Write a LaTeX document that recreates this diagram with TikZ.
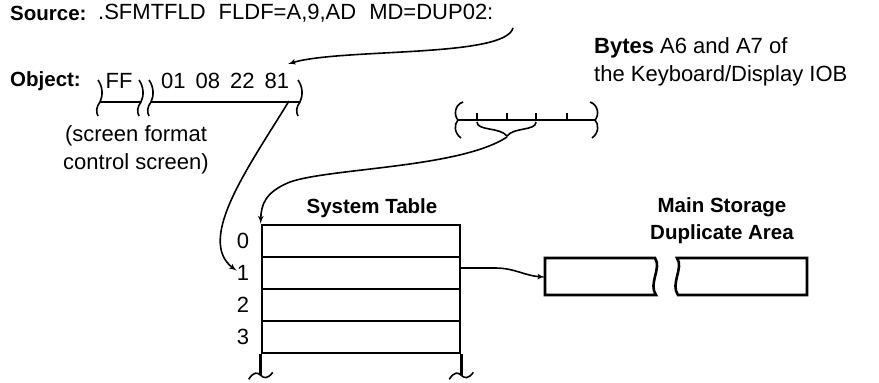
\documentclass[tikz,border=0pt]{standalone}
\usepackage{fontspec}
\setmainfont{Liberation Sans}
\usetikzlibrary{arrows, positioning}

\begin{document}
\begin{tikzpicture}[x=1pt, y=-1pt]

\tikzset{txt/.style = {font=\fontsize{22}{28}\selectfont, inner sep=0pt}}
\tikzset{bold/.style = {txt, font=\fontsize{20.5}{27}\selectfont\bfseries}}
\tikzset{conn/.style = {draw, ->, >=latex', line width=1.6pt}}
\tikzset{wire/.style = {line width=1.6pt}}
\tikzset{frame/.style = {line width=2.6pt}}
\tikzset{brk/.pic = {\draw[wire] (-2,-22) .. controls (3,-15) and (3,-6) .. (0,0) .. controls (-4,5) and (-4,10) .. (-2,14);}}
\tikzset{curl/.pic = {\draw[wire] (5,-18) .. controls (-4,-15) and (-4,-4) .. (0,0) .. controls (-4,4) and (-4,13) .. (3,18);}}
\tikzset{tilde/.pic = {\draw[wire] (-12,4) .. controls (-7,-4) and (-3,-3) .. (0,0) .. controls (3,3) and (7,4) .. (12,-3);}}

\useasboundingbox (0,0) rectangle (879,383);

% texts
\node[bold, anchor=west] (src) at (10,13) {Source:};
\node[txt, anchor=west] (srccode) at (98,13) {.SFMTFLD\hspace{13pt}FLDF=A,9,AD\hspace{13pt}MD=DUP02:};
\node[bold, anchor=west] (obj) at (10,81) {Object:};
\node[txt] (ff) at (119,81) {FF};
\node[txt, anchor=west] (objcode) at (161,81) {01\hspace{10pt}08\hspace{10pt}22\hspace{10pt}81};
\node[txt, align=center] (note) at (136,150) {(screen format\\control screen)};
\node[txt, align=left, anchor=west] (bytes) at (594,62) {\textbf{Bytes} A6 and A7 of\\the Keyboard/Display IOB};
\node[bold] (systab) at (372,208) {System Table};
\node[bold, align=center] (mainst) at (722,221) {Main Storage\\Duplicate Area};

% object fields
\draw[wire] (100,102) -- (141,102);
\draw[wire] (151,102) -- (300,102);
\foreach \x in {100,141,151,300} \pic at (\x,102) {brk};

% bytes A6 and A7
\draw[wire] (458,120) -- (595,120);
\foreach \x in {477,507,536,567} \draw[wire] (\x,120) -- ++(0,-7);
\pic at (458,120) {curl};
\pic[xscale=-1] at (595,120) {curl};
\draw[wire] (477,122) .. controls (477,131) and (500,127) .. (507,136) .. controls (514,127) and (536,131) .. (536,122);

% system table
\node[draw, frame, minimum width=198pt, minimum height=128pt, inner sep=0pt] (tbl) at (361,289) {};
\foreach \y in {257,289,321} \draw[wire] (262,\y) -- (460,\y);
\draw[frame] (tbl.south west) -- ++(0,21) pic {tilde};
\draw[frame] (tbl.south east) -- ++(0,21) pic {tilde};
\foreach \i/\y in {0/241,1/273,2/305,3/337} \node[txt] (lbl\i) at (243,\y) {\i};

% duplicate area
\draw[frame] (655,258) -- (545,258) -- (545,295) -- (656,295) .. controls (648,284) and (662,268) .. cycle;
\draw[frame] (677,258) -- (807,258) -- (807,295) -- (678,295) .. controls (670,284) and (684,268) .. cycle;

% connectors
\coordinate (dup) at (513,28);
\coordinate (p81) at (288,64);
\coordinate (q81) at (289,101);
\coordinate (bytip) at (507,137);
\coordinate (r1) at (460,268);
\coordinate (stor) at (545,277);
\draw[conn] (dup) .. controls (505,58) and (340,48) .. (p81);
\draw[conn] (q81) .. controls (250,165) and (195,240) .. (lbl1.160);
\draw[conn] (bytip) .. controls (460,168) and (330,168) .. (290,182) .. controls (265,192) and (261,205) .. (tbl.north west);
\draw[conn] (r1) -- (495,268) .. controls (515,268) and (525,276) .. (stor);
\end{tikzpicture}
\end{document}
